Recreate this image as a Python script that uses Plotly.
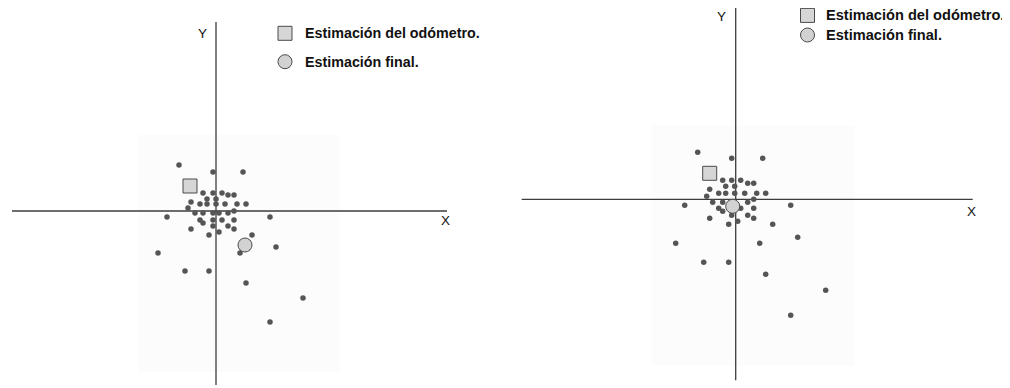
import plotly.graph_objects as go

# ---------------- data (offsets from the origin, arbitrary units) ----------------
left_x = [-3.7, -0.3, 2.7, -1.3, -0.3, 0.6, 1.2, 1.8, -0.9, 0.0, -2.5, -1.6, -0.9, 0.0,
          0.9, 2.1, 3.0, -2.8, -4.9, -2.1, -1.3, -0.3, 0.3, 1.2, 1.8, 5.4, -1.6, -1.3,
          -0.3, 0.6, 1.8, -0.3, 1.2, -2.5, 1.8, 0.3, -0.7, 3.6, 6.0, -5.8, 2.4, -3.1,
          -0.7, 3.0, 8.7, 5.4]
left_y = [4.6, 3.9, 3.9, 1.8, 1.8, 1.8, 1.6, 1.6, 1.2, 1.2, 0.9, 0.7, 0.7, 0.7,
          0.7, 0.7, 0.7, 0.3, -0.6, -0.2, -0.2, -0.2, -0.2, -0.2, 0.0, -0.6, -0.9, -1.2,
          -0.9, -0.9, -0.9, -1.5, -1.5, -1.8, -1.8, -2.1, -2.4, -2.4, -3.6, -4.2, -4.2, -6.0,
          -6.0, -7.2, -8.7, -11.1]
left_odom_x, left_odom_y = [-2.6], [2.5]
left_final_x, left_final_y = [2.9], [-3.4]

right_x = [-3.8, -0.4, 2.7, -1.3, -0.4, 0.5, 1.2, 1.8, -1.0, -0.1, -2.6, -1.7, -1.0, -0.1,
           0.9, 2.1, 3.0, -2.9, 1.8, -5.1, -2.3, -1.3, 1.2, 0.5, 1.8, 5.5, -1.7, -1.3,
           -0.4, 1.2, -2.6, 1.8, 0.2, -0.7, 3.7, 6.2, -6.0, 2.4, -3.2, -0.7, 3.0, 9.0, 5.5]
right_y = [4.7, 4.1, 4.1, 1.9, 1.9, 1.9, 1.6, 1.6, 1.3, 1.3, 1.0, 0.6, 0.6, 0.6,
           0.6, 0.6, 0.6, 0.3, 0.0, -0.6, -0.3, -0.3, -0.3, -0.9, -0.9, -0.6, -0.9, -1.2,
           -1.6, -1.6, -1.9, -1.9, -2.2, -2.5, -2.5, -3.8, -4.4, -4.4, -6.3, -6.3, -7.5, -9.1, -11.6]
right_odom_x, right_odom_y = [-2.6], [2.6]
right_final_x, right_final_y = [-0.3], [-0.7]

legend_labels = ["Estimación del odómetro.", "Estimación final."]
axis_labels = ["X", "Y"]

# ---------------- styles ----------------
DOT = "#555555"
AX = "#3c3c3c"
EDGE = "#4a4a4a"
FILL_SQ = "#d6d6d6"
FILL_CI = "#d2d2d2"
FONT = "Liberation Sans, Arial, sans-serif"

# the page body has an 8px margin, so the figure is drawn 8px in from the corner
W, H = 1002, 380

fig = go.Figure()

panels = [
    dict(xa="x", ya="y", dx=left_x, dy=left_y, ox=left_odom_x, oy=left_odom_y,
         fx=left_final_x, fy=left_final_y),
    dict(xa="x2", ya="y2", dx=right_x, dy=right_y, ox=right_odom_x, oy=right_odom_y,
         fx=right_final_x, fy=right_final_y),
]

for p in panels:
    fig.add_trace(go.Scatter(x=p["dx"], y=p["dy"], mode="markers", xaxis=p["xa"], yaxis=p["ya"],
                             marker=dict(size=5.5, color=DOT, line=dict(width=0)),
                             showlegend=False, hoverinfo="skip"))
    fig.add_trace(go.Scatter(x=p["ox"], y=p["oy"], mode="markers", xaxis=p["xa"], yaxis=p["ya"],
                             name=legend_labels[0], showlegend=False,
                             marker=dict(symbol="square", size=14, color=FILL_SQ,
                                         line=dict(width=1, color=EDGE))))
    fig.add_trace(go.Scatter(x=p["fx"], y=p["fy"], mode="markers", xaxis=p["xa"], yaxis=p["ya"],
                             name=legend_labels[1], showlegend=False,
                             marker=dict(symbol="circle", size=14, color=FILL_CI,
                                         line=dict(width=1, color=EDGE))))

shapes = []
# faint background squares
shapes.append(dict(type="rect", xref="x", yref="y", x0=-7.8, x1=12.4, y0=-16.1, y1=7.6,
                   fillcolor="#fcfcfc", line=dict(width=0), layer="below"))
shapes.append(dict(type="rect", xref="x2", yref="y2", x0=-8.4, x1=11.9, y0=-16.6, y1=7.4,
                   fillcolor="#fcfcfc", line=dict(width=0), layer="below"))
# axis cross lines
shapes += [
    dict(type="line", xref="x", yref="y", x0=-20.4, x1=23.1, y0=0, y1=0, line=dict(color=AX, width=1.3), layer="below"),
    dict(type="line", xref="x", yref="y", x0=0, x1=0, y0=-17.4, y1=18.9, line=dict(color=AX, width=1.3), layer="below"),
    dict(type="line", xref="x2", yref="y2", x0=-21.4, x1=23.7, y0=0, y1=0, line=dict(color=AX, width=1.3), layer="below"),
    dict(type="line", xref="x2", yref="y2", x0=0, x1=0, y0=-18.1, y1=19.4, line=dict(color=AX, width=1.3), layer="below"),
]

annots = []
for xr, yr, xpos, ypos in [("x", "y", 22.9, -0.95), ("x2", "y2", 23.6, -1.2)]:
    annots.append(dict(xref=xr, yref=yr, x=xpos, y=ypos, text=axis_labels[0], showarrow=False,
                       font=dict(family=FONT, size=13.5, color="#111")))
for xr, yr, xpos, ypos in [("x", "y", -1.33, 17.8), ("x2", "y2", -1.4, 18.3)]:
    annots.append(dict(xref=xr, yref=yr, x=xpos, y=ypos, text=axis_labels[1], showarrow=False,
                       font=dict(family=FONT, size=13.5, color="#111")))

# legend keys and labels (positions in figure pixels, converted to paper units)
legends = [
    # key centre x, first row y, second row y, text x, font size
    dict(kx=277, ky=[25.3, 53.7], tx=295.5, fs=14.3),
    dict(kx=799.5, ky=[7.4, 27.0], tx=817.0, fs=14.6),
]
R = 7
for lg in legends:
    y0, y1 = lg["ky"]
    shapes.append(dict(type="rect", xref="paper", yref="paper",
                       x0=(lg["kx"] - R) / W, x1=(lg["kx"] + R) / W,
                       y0=1 - (y0 + R) / H, y1=1 - (y0 - R) / H,
                       fillcolor=FILL_SQ, line=dict(color=EDGE, width=1), layer="above"))
    shapes.append(dict(type="circle", xref="paper", yref="paper",
                       x0=(lg["kx"] - R) / W, x1=(lg["kx"] + R) / W,
                       y0=1 - (y1 + R) / H, y1=1 - (y1 - R) / H,
                       fillcolor=FILL_CI, line=dict(color=EDGE, width=1), layer="above"))
    for label, yy in zip(legend_labels, lg["ky"]):
        annots.append(dict(xref="paper", yref="paper", x=lg["tx"] / W, y=1 - yy / H,
                           xanchor="left", yanchor="middle", text=label, showarrow=False,
                           borderpad=0,
                           font=dict(family=FONT, size=lg["fs"], color="#111", weight="bold")))

ax_common = dict(visible=False, showgrid=False, zeroline=False, fixedrange=True)
fig.update_layout(
    width=W, height=H,
    margin=dict(l=0, r=0, t=0, b=0),
    paper_bgcolor="white", plot_bgcolor="white",
    xaxis=dict(domain=[0, 462 / W], range=[-20.8, 25.4], **ax_common),
    yaxis=dict(domain=[0, 1], range=[-17.7, 20.3], **ax_common),
    xaxis2=dict(domain=[472 / W, 1], range=[-25.57, 27.43], **ax_common),
    yaxis2=dict(domain=[0, 1], range=[-18.87, 19.13], anchor="x2", **ax_common),
    shapes=shapes,
    annotations=annots,
    showlegend=False,
    hovermode=False,
)

fig.write_html("out.html")
